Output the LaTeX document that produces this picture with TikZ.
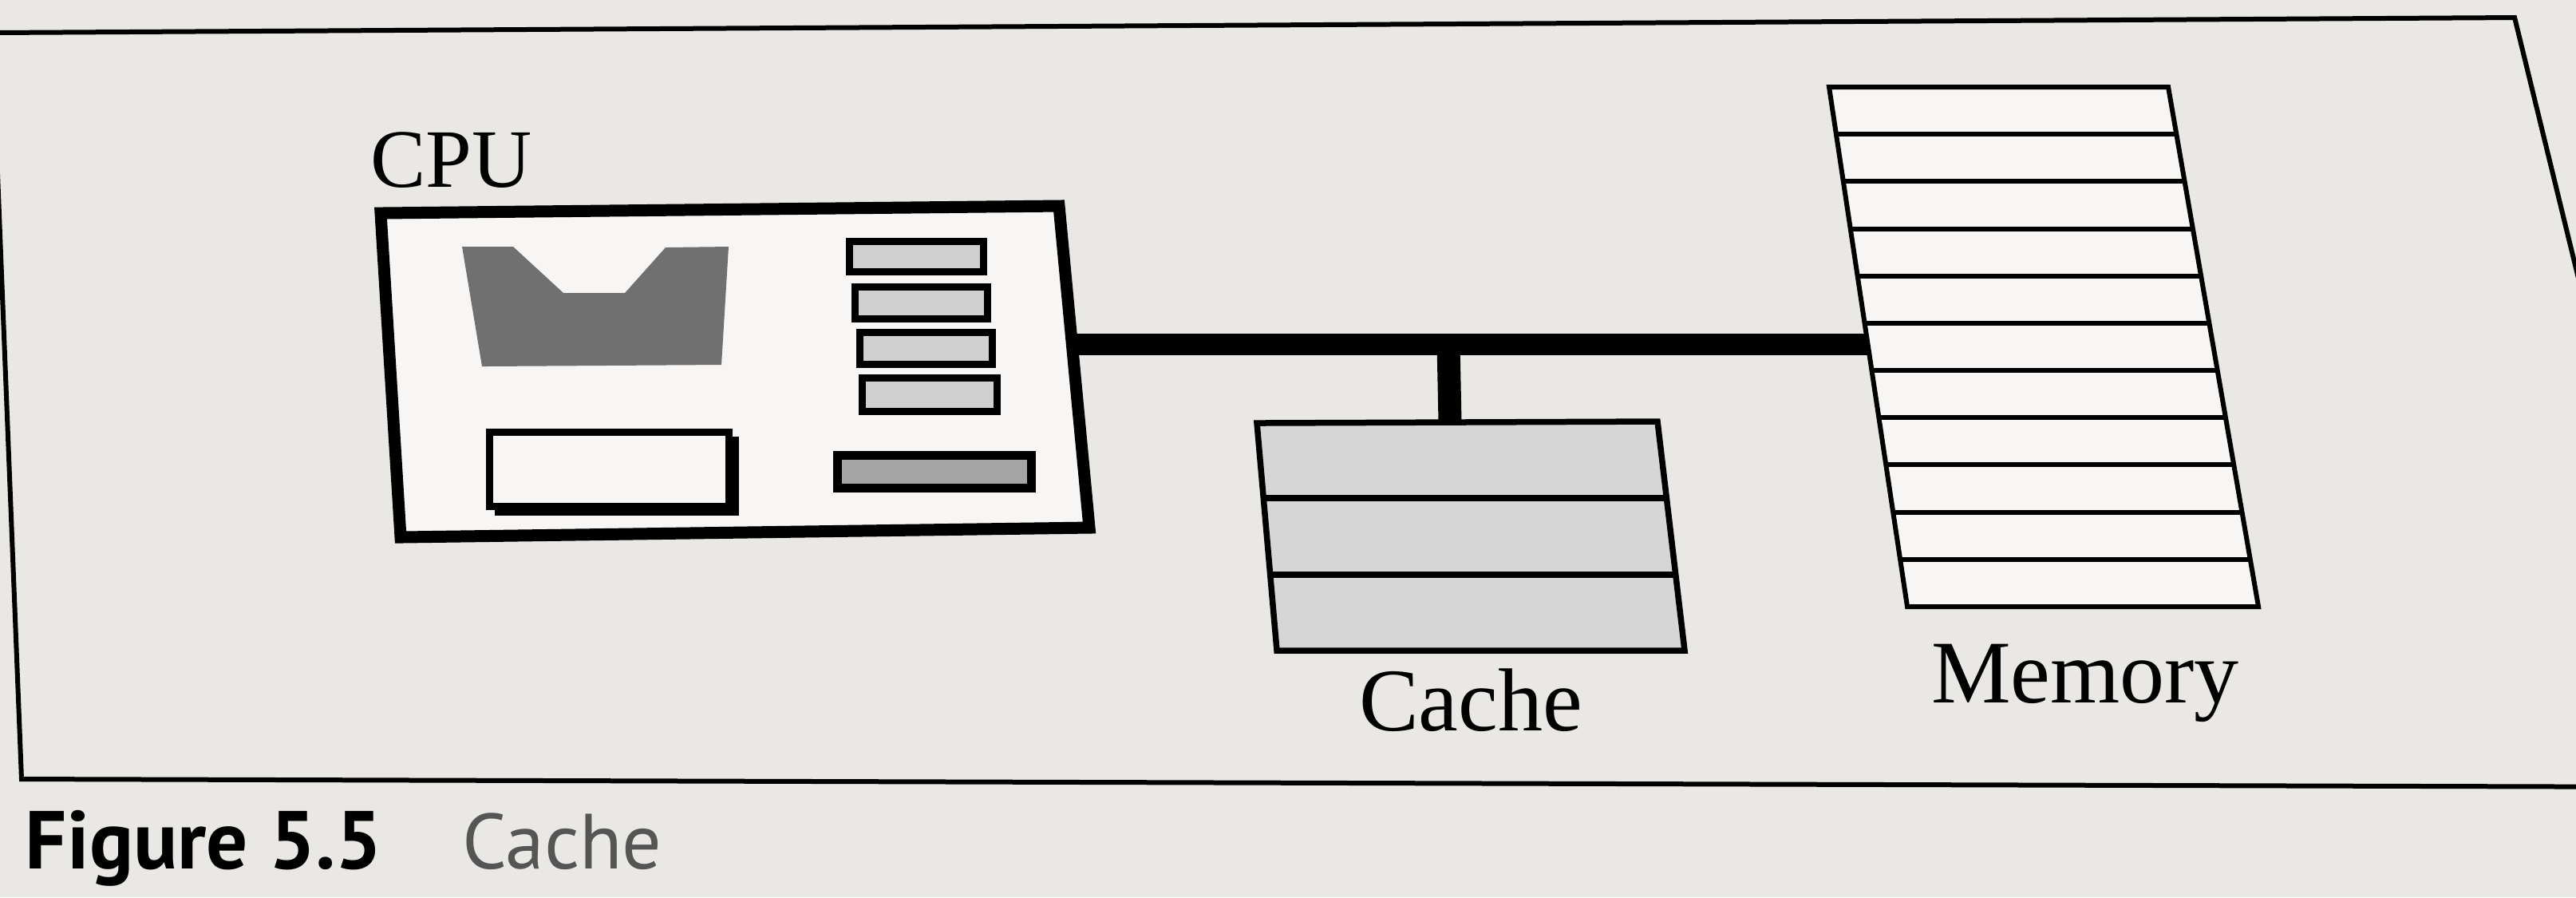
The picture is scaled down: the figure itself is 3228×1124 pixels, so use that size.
\documentclass[tikz,border=0pt]{standalone}
\usepackage{fontspec}
\setmainfont{Liberation Serif}
\newfontfamily\capfont{PT Sans}
\usetikzlibrary{calc}
\definecolor{paper}{RGB}{234,232,228}
\definecolor{darkhalf}{RGB}{112,112,112}
\definecolor{reggray}{RGB}{208,208,208}
\definecolor{bargray}{RGB}{165,165,165}
\definecolor{cachegray}{RGB}{214,214,214}
\definecolor{capgray}{RGB}{85,85,85}
\tikzset{
  frameline/.style={draw=black,line width=0.6pt},
  cpubox/.style={draw=black,line width=1.5pt,fill=white!60!paper,line join=miter},
  regbox/.style={draw=black,line width=0.9pt,fill=reggray},
  bus/.style={draw=black,line width=2.7pt},
  cachebox/.style={draw=black,line width=0.75pt,fill=cachegray},
  memline/.style={draw=black,line width=0.6pt},
  lbl/.style={inner sep=0pt,font=\fontsize{10.8pt}{12pt}\selectfont}
}
\begin{document}
\begin{tikzpicture}[x=0.1pt,y=-0.1pt]
\useasboundingbox (0,0) rectangle (3228,1124);
\fill[paper] (0,0) rectangle (3228,1124);
\begin{scope}
\clip (0,0) rectangle (3228,1124);
% outer frame (photographed page, slightly skewed)
\draw[frameline] (3387,986) -- (27,976) -- (-10,41) -- (3151,22) -- (3387,986);
\end{scope}

% ---------------- CPU ----------------
\coordinate (cpuNW) at (477,267);
\coordinate (cpuNE) at (1327,258);
\coordinate (cpuSE) at (1365,661);
\coordinate (cpuSW) at (502,673);
\draw[cpubox] (cpuNW) -- (cpuNE) -- (cpuSE) -- (cpuSW) -- cycle;
\node[lbl,anchor=base west,font=\fontsize{10.4pt}{12pt}\selectfont] (cpulabel) at (462,234) {CPU};
% dark halftone shape
\fill[darkhalf] (579,309) -- (643,309) -- (706,367) -- (783,367) -- (834,310)
  -- (913,309) -- (904,457) -- (604,459) -- cycle;
% registers
\draw[regbox] (1064,302) rectangle (1232,340);
\draw[regbox] (1071,359) rectangle (1237,399);
\draw[regbox] (1077,416) rectangle (1243,456);
\draw[regbox] (1080,473) rectangle (1249,515);
% white block with shadow
\fill[black] (620,547) rectangle (926,646);
\draw[black,line width=0.9pt,fill=white!60!paper] (613,541) rectangle (913,634);
% gray bar
\draw[black,line width=1.1pt,fill=bargray] (1049,570) rectangle (1292,611);

% ---------------- Memory ----------------
\coordinate (memNW) at (2292,109);
\coordinate (memNE) at (2717,109);
\coordinate (memSE) at (2830,760);
\coordinate (memSW) at (2390,760);
\draw[memline,fill=white!60!paper,line join=miter] (memNW) -- (memNE) -- (memSE) -- (memSW) -- cycle;
\foreach \i in {1,...,10}{
  \pgfmathsetmacro\yy{109+\i*651/11}
  \draw[memline] ({2292+(\yy-109)*0.1505},\yy) -- ({2717+(\yy-109)*0.1736},\yy);
}
\node[lbl,anchor=base,font=\fontsize{11.2pt}{13pt}\selectfont] (memlabel) at (2613,880) {Memory};

% ---------------- Cache ----------------
\coordinate (cacheNW) at (1575,530);
\coordinate (cacheNE) at (2077,528);
\coordinate (cacheSE) at (2111,815);
\coordinate (cacheSW) at (1600,815);
\draw[cachebox,line join=miter] (cacheNW) -- (cacheNE) -- (cacheSE) -- (cacheSW) -- cycle;
\draw[black,line width=0.75pt] (1583,624) -- (2088,624);
\draw[black,line width=0.75pt] (1592,720) -- (2100,720);
\node[lbl,anchor=base,font=\fontsize{11.2pt}{13pt}\selectfont] (cachelabel) at (1843,915) {Cache};

% ---------------- Bus ----------------
\coordinate (cpuE) at (1344,431);
\coordinate (memW) at (2341,431);
\coordinate (tap) at (1815,431);
\coordinate (cacheN) at (1817,529);
\draw[bus] (cpuE) -- (memW);
\draw[black,line width=2.9pt] (tap) -- (cacheN);

% ---------------- Caption ----------------
\node[inner sep=0pt,anchor=base west,font=\capfont\bfseries\fontsize{10.3pt}{12pt}\selectfont] (figno) at (30,1088) {Figure 5.5};
\node[inner sep=0pt,anchor=base west,text=capgray,font=\capfont\fontsize{9.8pt}{11pt}\selectfont] (figtitle) at (577,1088) {Cache};
\end{tikzpicture}
\end{document}
